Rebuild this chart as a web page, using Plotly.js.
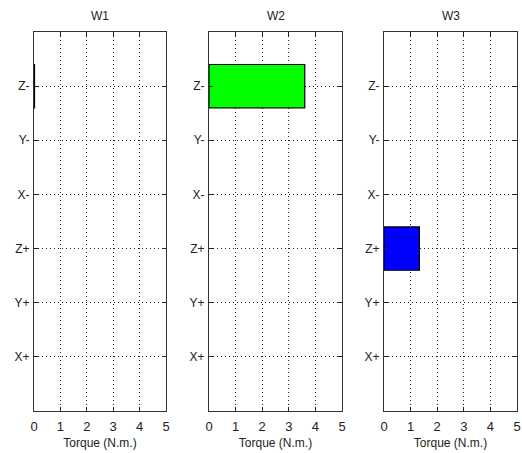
<!DOCTYPE html>
<html>
<head>
<meta charset="utf-8">
<script src="https://cdn.plot.ly/plotly-3.0.1.min.js"></script>
<style>html,body{margin:0;padding:0;background:#fff;}#chart{width:522px;height:453px;}</style>
</head>
<body>
<div id="chart"></div>
<script>
// Torque directions, bottom to top
const categories = ['X+', 'Y+', 'Z+', 'X-', 'Y-', 'Z-'];
const panelTitles = ['W1', 'W2', 'W3'];
// Torque per direction (N.m.) for each wheel
const torqueW1 = [0, 0, 0, 0, 0, 0.02];
const torqueW2 = [0, 0, 0, 0, 0, 3.6];
const torqueW3 = [0, 0, 1.33, 0, 0, 0];
const xTicks = [0, 1, 2, 3, 4, 5];

const series = [torqueW1, torqueW2, torqueW3];
const colors = ['#ff0000', '#00ff00', '#0000ff'];
const positions = categories.map((_, i) => i + 1);

const traces = series.map((vals, k) => ({
  type: 'bar',
  orientation: 'h',
  x: vals,
  y: positions,
  width: 0.8,
  xaxis: k === 0 ? 'x' : 'x' + (k + 1),
  yaxis: k === 0 ? 'y' : 'y' + (k + 1),
  // empty directions get no outline
  marker: {color: colors[k], line: {color: '#000', width: vals.map(v => (v > 0 ? 1.2 : 0))}},
  hoverinfo: 'skip',
  showlegend: false
}));

const font = {family: 'Liberation Sans, Arial, sans-serif', size: 12, color: '#222'};
const domains = [[34 / 522, 166 / 522], [209 / 522, 342 / 522], [384 / 522, 517 / 522]];
const yDomain = [42 / 453, 421 / 453];
const gridDash = '1px,3px';

const layout = {
  width: 522, height: 453,
  margin: {l: 0, r: 0, t: 0, b: 0},
  paper_bgcolor: '#fff', plot_bgcolor: '#fff',
  font: font,
  bargap: 0,
  annotations: []
};

for (let k = 0; k < 3; k++) {
  const xs = k === 0 ? 'xaxis' : 'xaxis' + (k + 1);
  const ys = k === 0 ? 'yaxis' : 'yaxis' + (k + 1);
  layout[xs] = {
    domain: domains[k], anchor: k === 0 ? 'y' : 'y' + (k + 1),
    range: [0, 5], tickvals: xTicks, ticktext: xTicks.map(String),
    ticks: 'inside', ticklen: 4, tickcolor: '#222',
    showline: true, linecolor: '#333', linewidth: 1, mirror: 'ticks',
    showgrid: true, gridcolor: '#222', griddash: gridDash, gridwidth: 1,
    zeroline: false, fixedrange: true,
    tickfont: {family: font.family, size: 13, color: '#222'},
    ticklabelstandoff: 3,
    title: {text: 'Torque (N.m.)', font: font, standoff: 6}
  };
  layout[ys] = {
    domain: yDomain, anchor: k === 0 ? 'x' : 'x' + (k + 1),
    range: [0, 7], tickvals: positions, ticktext: categories,
    ticks: 'inside', ticklen: 4, tickcolor: '#222',
    showline: true, linecolor: '#333', linewidth: 1, mirror: 'ticks',
    showgrid: true, gridcolor: '#222', griddash: gridDash, gridwidth: 1,
    zeroline: false, fixedrange: true,
    tickfont: font,
    ticklabelstandoff: 1
  };
  layout.annotations.push({
    text: panelTitles[k], xref: 'paper', yref: 'paper',
    x: (domains[k][0] + domains[k][1]) / 2, y: (453 - 16) / 453,
    xanchor: 'center', yanchor: 'middle', showarrow: false,
    font: {family: font.family, size: 12, color: '#222'}
  });
}

Plotly.newPlot('chart', traces, layout, {displayModeBar: false, staticPlot: true});
</script>
</body>
</html>
